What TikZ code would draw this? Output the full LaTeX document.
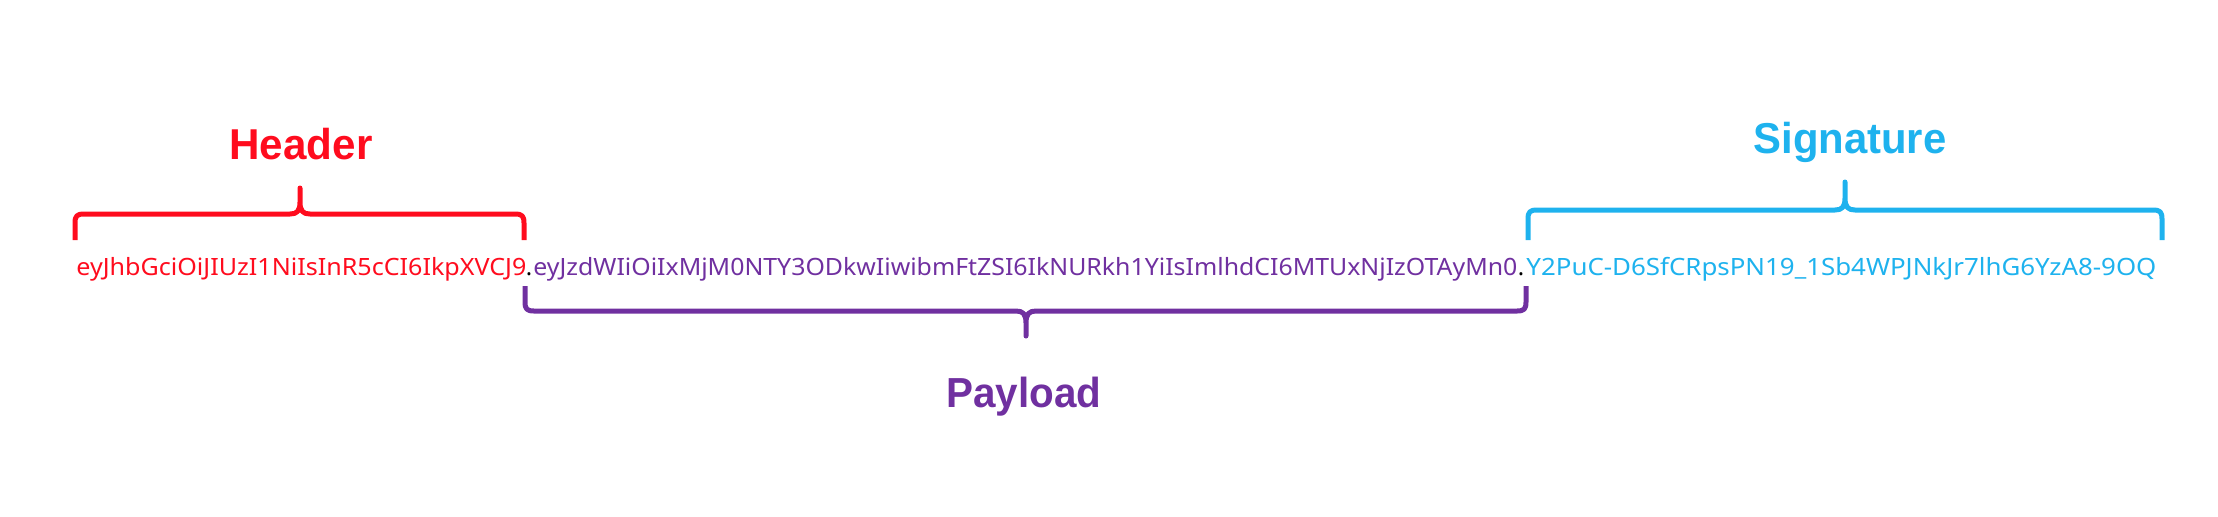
\documentclass[tikz,border=0pt]{standalone}
\usepackage{fontspec}
\setmainfont{Noto Sans}
\newfontfamily\labfont{Liberation Sans}
\usepackage{graphicx}
\definecolor{hred}{RGB}{255,12,30}
\definecolor{ppurple}{RGB}{112,48,160}
\definecolor{sblue}{RGB}{30,178,238}
\newlength\fitw
\newcommand\fitbox[2]{\settowidth\fitw{#2}\pgfmathsetmacro\fitsx{#1/\fitw}\scalebox{\fitsx}[1]{#2}}
\begin{document}
\begin{tikzpicture}[x=0.5pt,y=-0.5pt,
  strtext/.style={inner sep=0pt, anchor=base west, font=\fontsize{11.9}{14}\selectfont},
  dottext/.style={inner sep=0pt, anchor=base, font=\fontsize{11.9}{14}\selectfont, text=black},
  partlabel/.style={inner sep=0pt, anchor=base, font=\labfont\bfseries\fontsize{21.6}{26}\selectfont},
  bracepath/.style={line width=2.5pt, line join=round}]
\useasboundingbox (0,0) rectangle (2218,516);

% strings
\node[strtext, text=hred] (hdrstr) at (76,275) {\fitbox{225}{eyJhbGciOiJIUzI1NiIsInR5cCI6IkpXVCJ9}};
\node[dottext] (dota) at (529,275) {.};
\node[strtext, text=ppurple] (paystr) at (533,275) {\fitbox{492}{eyJzdWIiOiIxMjM0NTY3ODkwIiwibmFtZSI6IkNURkh1YiIsImlhdCI6MTUxNjIzOTAyMn0}};
\node[dottext] (dotb) at (1521,275) {.};
\node[strtext, text=sblue] (sigstr) at (1526,275) {\fitbox{315}{Y2PuC-D6SfCRpsPN19\_1Sb4WPJNkJr7lhG6YzA8-9OQ}};

% labels
\node[partlabel, text=hred] (hdrlab) at (301,159) {\fitbox{71.5}{Header}};
\node[partlabel, text=ppurple, font=\labfont\bfseries\fontsize{21}{25}\selectfont] (paylab) at (1024,407) {\fitbox{77.5}{Payload}};
\node[partlabel, text=sblue] (siglab) at (1850,153) {\fitbox{96.5}{Signature}};

% header brace
\draw[bracepath, hred] (75,240) -- (75,223) .. controls (75,216) and (77,214) .. (84,214)
  -- (290,214) .. controls (297,214) and (300,211) .. (300,202) -- (300,188)
  -- (300,202) .. controls (300,211) and (303,214) .. (310,214)
  -- (515,214) .. controls (522,214) and (524,216) .. (524,223) -- (524,240);

% payload brace
\draw[bracepath, ppurple] (525,286) -- (525,302) .. controls (525,309) and (527,311) .. (534,311)
  -- (1016,311) .. controls (1023,311) and (1026,314) .. (1026,323) -- (1026,336)
  -- (1026,323) .. controls (1026,314) and (1029,311) .. (1036,311)
  -- (1517,311) .. controls (1524,311) and (1526,309) .. (1526,302) -- (1526,286);

% signature brace
\draw[bracepath, sblue] (1528,240) -- (1528,219) .. controls (1528,212) and (1530,210) .. (1537,210)
  -- (1835,210) .. controls (1842,210) and (1845,207) .. (1845,198) -- (1845,182)
  -- (1845,198) .. controls (1845,207) and (1848,210) .. (1855,210)
  -- (2153,210) .. controls (2160,210) and (2162,212) .. (2162,219) -- (2162,240);
\end{tikzpicture}
\end{document}
